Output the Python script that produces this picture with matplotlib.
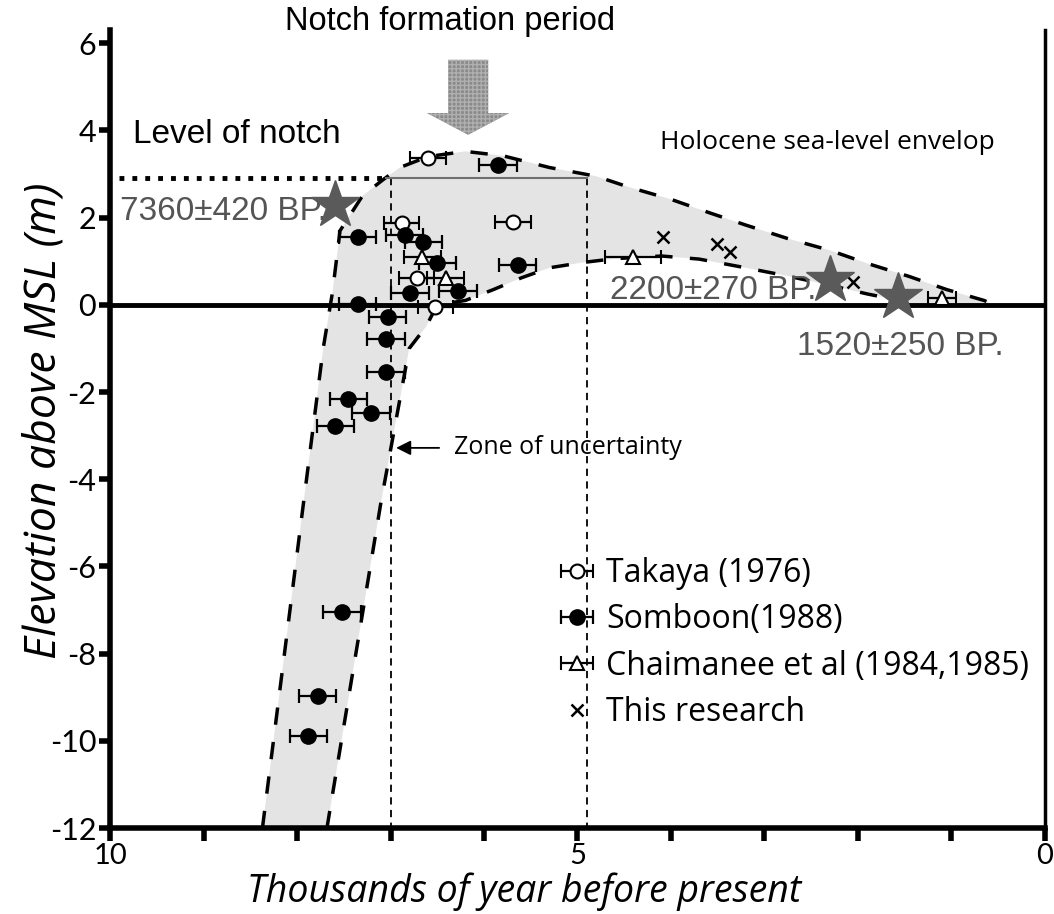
import matplotlib
matplotlib.use("Agg")
import matplotlib.pyplot as plt
from matplotlib.patches import FancyArrow

# ---- data (thousand years BP, metres above MSL) ----
takaya_x = [6.60, 5.69, 6.88, 6.72, 6.52]
takaya_y = [3.37, 1.90, 1.88, 0.62, -0.05]

somboon_x = [5.85, 7.35, 6.85, 6.65, 6.50, 5.64, 6.79, 6.28, 7.35, 7.03,
             7.05, 7.05, 7.45, 7.21, 7.59, 7.52, 7.78, 7.88]
somboon_y = [3.21, 1.56, 1.61, 1.45, 0.96, 0.92, 0.27, 0.31, 0.02, -0.27,
             -0.78, -1.53, -2.16, -2.47, -2.78, -7.05, -8.97, -9.89]

chaim_x = [6.66, 6.41, 4.41, 1.10]
chaim_y = [1.10, 0.62, 1.10, 0.16]
chaim_err = [0.2, 0.2, 0.3, 0.15]

this_x = [4.09, 3.51, 3.37, 2.05]
this_y = [1.56, 1.40, 1.22, 0.53]

star_x = [7.59, 2.30, 1.57]
star_y = [2.29, 0.57, 0.18]
star_labels = ["7360\u00b1420 BP.", "2200\u00b1270 BP.", "1520\u00b1250 BP."]

# envelope of Holocene sea level
outer_x = [8.37, 7.94, 7.72, 7.62, 7.54, 7.30, 7.08, 6.90, 6.60, 6.20, 5.80,
           5.30, 4.80, 4.45, 4.00, 3.60, 3.20, 2.75, 2.30, 1.90, 1.45, 1.05,
           0.65, 0.55]
outer_y = [-12.0, -4.7, -1.0, 0.3, 1.7, 2.5, 2.87, 3.15, 3.40, 3.52, 3.42,
           3.15, 2.95, 2.70, 2.42, 2.12, 1.83, 1.52, 1.25, 0.95, 0.65, 0.35,
           0.10, 0.0]
inner_x = [7.68, 7.10, 6.80, 6.62, 6.50, 6.20, 5.90, 5.60, 5.30, 4.95, 4.60,
           4.10, 3.70, 3.20, 2.75, 2.30, 1.90, 1.60]
inner_y = [-12.0, -4.5, -1.0, -0.5, 0.0, 0.10, 0.35, 0.62, 0.85, 0.97, 1.06,
           1.12, 1.05, 0.85, 0.66, 0.45, 0.25, 0.12]

notch_level = 2.9
zone_x = [7.0, 4.9]

myriad = "Open Sans"
digits = "Lato"
arial = "Liberation Sans"
grey_txt = "#555555"

fig = plt.figure(figsize=(10.54, 9.14), dpi=100)
ax = fig.add_axes([0.1044, 0.094, 0.887, 0.873])
ax.set_xlim(10, 0)
ax.set_ylim(-12, 6.3)

# envelope fill and dashed bounds
poly_x = outer_x + [1.6] + inner_x[::-1]
poly_y = outer_y + [0.0] + inner_y[::-1]
ax.fill(poly_x, poly_y, color="#e4e4e4", lw=0, zorder=1)
ax.plot(outer_x, outer_y, color="k", lw=2.5, ls=(0, (5, 5)), zorder=3)
ax.plot(inner_x, inner_y, color="k", lw=2.5, ls=(0, (5, 5)), zorder=3)

# zero line, notch level, zone of uncertainty
ax.axhline(0, color="k", lw=3.5, zorder=2)
ax.plot([9.9, 7.05], [notch_level, notch_level], color="k", lw=3.5,
        ls=":", zorder=3)
ax.plot([7.05, 4.9], [notch_level, notch_level], color="#6f6f6f", lw=1.5,
        zorder=3)
for zx in zone_x:
    ax.plot([zx, zx], [notch_level, -12], color="k", lw=1.3,
            ls=(0, (4, 3)), zorder=2)

# data points
eb_kw = dict(ecolor="k", elinewidth=1.6, capsize=5, capthick=1.6,
             linestyle="none", zorder=5)
h1 = ax.errorbar(takaya_x, takaya_y, xerr=0.19, fmt="o", ms=10,
                 mfc="white", mec="k", mew=1.5, **eb_kw)
h2 = ax.errorbar(somboon_x, somboon_y, xerr=0.2, fmt="o", ms=11,
                 mfc="k", mec="k", **eb_kw)
h3 = ax.errorbar(chaim_x, chaim_y, xerr=chaim_err, fmt="^", ms=10,
                 mfc="white", mec="k", mew=1.5, **eb_kw)
h4, = ax.plot(this_x, this_y, "x", color="k", ms=9, mew=1.8, zorder=5)

ax.plot(star_x, star_y, "*", color="#5a5a5a", ms=36, mec="#5a5a5a",
        zorder=6)

# texts
ax.text(9.75, 3.9, "Level of notch", fontsize=24, family=arial,
        va="center", ha="left")
ax.text(9.89, 2.15, star_labels[0], fontsize=24, family=arial,
        color=grey_txt, va="center")
ax.text(4.65, 0.34, star_labels[1], fontsize=24, family=arial,
        color=grey_txt, va="center")
ax.text(2.65, -0.95, star_labels[2], fontsize=24, family=arial,
        color=grey_txt, va="center")
ax.text(4.12, 3.72, "Holocene sea-level envelop", fontsize=19,
        family=myriad, va="center")
ax.text(6.36, 6.5, "Notch formation period", fontsize=23.5, family=arial,
        ha="center", va="center")
ax.annotate("", xy=(6.97, -3.28), xytext=(6.45, -3.28),
            arrowprops=dict(arrowstyle="-|>", color="k", lw=1.3,
                            mutation_scale=22))
ax.text(6.32, -3.28, "Zone of uncertainty", fontsize=18, family=myriad,
        va="center")

arrow = FancyArrow(6.17, 5.62, 0, -1.72, width=0.43, head_width=0.88,
                   head_length=0.5, length_includes_head=True,
                   facecolor="#8a8a8a", edgecolor="#b0b0b0", hatch="++++",
                   lw=0, zorder=4)
ax.add_patch(arrow)

# legend
leg = ax.legend([h1, h2, h3, h4],
                ["Takaya (1976)", "Somboon(1988)",
                 "Chaimanee et al (1984,1985)", "This research"],
                loc="upper left", bbox_to_anchor=(0.462, 0.36),
                frameon=False, handlelength=1.2, handletextpad=0.3,
                labelspacing=0.42, borderpad=0,
                prop=dict(family=myriad, size=23))

# axes styling
ax.spines["top"].set_visible(False)
ax.spines["left"].set_linewidth(4)
ax.spines["bottom"].set_linewidth(4)
ax.spines["right"].set_linewidth(2.5)

ax.set_yticks(range(-12, 7, 2))
ax.set_yticklabels([str(v) for v in range(-12, 7, 2)])
ax.set_xticks(range(0, 11))
ax.set_xticklabels(["0" if v == 0 else "5" if v == 5 else "10" if v == 10
                    else "" for v in range(0, 11)])
ax.tick_params(axis="y", direction="out", length=8, width=4, pad=2,
               labelsize=22)
ax.tick_params(axis="x", direction="out", length=9, width=4, pad=2,
               labelsize=21)
for lab in ax.get_xticklabels() + ax.get_yticklabels():
    lab.set_family(digits)

ax.set_xlabel("Thousands of year before present", fontsize=27,
              family=myriad, style="italic", va="bottom")
ax.xaxis.set_label_coords(0.443, -0.104)
ax.set_ylabel("Elevation above MSL (m)", fontsize=32, family=myriad,
              style="italic")
ax.yaxis.set_label_coords(-0.047, 0.51)

fig.savefig("out.png", dpi=100)
